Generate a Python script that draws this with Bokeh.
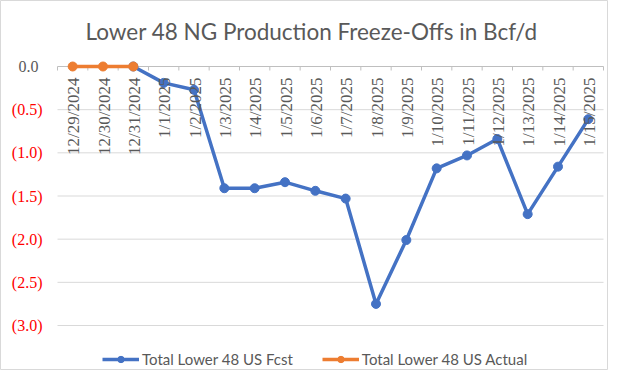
import math
from bokeh.plotting import figure
from bokeh.models import (ColumnDataSource, LabelSet, Label, Range1d,
                          Legend, LegendItem)
from bokeh.embed import file_html
from bokeh.resources import INLINE

# ---- data ----
categories = ["12/29/2024", "12/30/2024", "12/31/2024", "1/1/2025", "1/2/2025",
              "1/3/2025", "1/4/2025", "1/5/2025", "1/6/2025", "1/7/2025",
              "1/8/2025", "1/9/2025", "1/10/2025", "1/11/2025", "1/12/2025",
              "1/13/2025", "1/14/2025", "1/15/2025"]
nan = float("nan")
fcst = [nan, nan, 0.0, -0.19, -0.27, -1.41, -1.41, -1.34, -1.44, -1.53,
        -2.75, -2.01, -1.18, -1.03, -0.84, -1.71, -1.16, -0.61]
actual = [0.0, 0.0, 0.0, nan, nan, nan, nan, nan, nan, nan,
          nan, nan, nan, nan, nan, nan, nan, nan]
y_ticks = [0.0, -0.5, -1.0, -1.5, -2.0, -2.5, -3.0]
title_text = "Lower 48 NG Production Freeze-Offs in Bcf/d"

FONT = "Lato"
GRAY = "#595959"
BLUE = "#4472C4"
ORANGE = "#ED7D31"

# ---- layout (pixels) ----
W, H = 608, 370
PLOT_L, PLOT_R = 57, 603          # pixel extent of the category area
Y0_PX, YMIN_PX = 66, 325          # pixel rows of value 0 and of the lowest tick
n = len(categories)
ymin = min(y_ticks)
sx = (PLOT_R - PLOT_L) / n        # px per category
sy = (YMIN_PX - Y0_PX) / (0 - ymin)  # px per unit

x_start = -PLOT_L / sx
x_end = (W - PLOT_L) / sx
y_end = Y0_PX / sy
y_start = -(H - Y0_PX) / sy


def px_x(px):
    return x_start + px / sx


def px_y(py):
    return y_end - py / sy


xs = [i + 0.5 for i in range(n)]

p = figure(width=W, height=H, output_backend="svg", toolbar_location=None,
           x_range=Range1d(x_start, x_end), y_range=Range1d(y_start, y_end),
           min_border=0)
p.min_border_left = p.min_border_right = p.min_border_top = p.min_border_bottom = 0
p.outline_line_color = "#D9D9D9"
p.outline_line_width = 1
p.xaxis.visible = False
p.yaxis.visible = False
p.xgrid.visible = False
p.ygrid.visible = False

# gridlines for the negative ticks
neg = [t for t in y_ticks if t < 0]
p.segment(x0=[0] * len(neg), y0=neg, x1=[n] * len(neg), y1=neg,
          line_color="#D9D9D9", line_width=1)
# horizontal axis line at 0 with tick marks between categories
p.segment(x0=[0], y0=[0], x1=[n], y1=[0], line_color="#BFBFBF", line_width=1)
bounds = list(range(n + 1))
tick_len = 4 / sy
p.segment(x0=bounds, y0=[0] * len(bounds), x1=bounds, y1=[-tick_len] * len(bounds),
          line_color="#BFBFBF", line_width=1)

src = ColumnDataSource(dict(x=xs, fcst=fcst, actual=actual))
l1 = p.line("x", "fcst", source=src, line_color=BLUE, line_width=3.5)
s1 = p.scatter("x", "fcst", source=src, size=9, fill_color=BLUE, line_color=BLUE)
l2 = p.line("x", "actual", source=src, line_color=ORANGE, line_width=3.5)
s2 = p.scatter("x", "actual", source=src, size=9, fill_color=ORANGE, line_color=ORANGE)

# x category labels (rotated) hanging below the zero line
xl_src = ColumnDataSource(dict(x=xs, y=[0.0] * n, text=categories))
p.add_layout(LabelSet(x="x", y="y", text="text", source=xl_src, angle=math.pi / 2,
                      text_align="right", text_baseline="middle", y_offset=-11,
                      x_offset=1,
                      text_font=FONT, text_font_size="17px", text_color=GRAY))

# y tick labels: zero gray, negatives red in parentheses
yl_neg = ColumnDataSource(dict(x=[0] * len(neg), y=neg,
                               text=["(%.1f)" % abs(t) for t in neg]))
p.add_layout(LabelSet(x="x", y="y", text="text", source=yl_neg, x_offset=-15,
                      text_align="right", text_baseline="middle",
                      text_font=FONT, text_font_size="16px", text_color="#FF0000"))
yl_zero = ColumnDataSource(dict(x=[0], y=[0.0], text=["%.1f" % 0.0]))
p.add_layout(LabelSet(x="x", y="y", text="text", source=yl_zero, x_offset=-19,
                      text_align="right", text_baseline="middle",
                      text_font=FONT, text_font_size="16px", text_color=GRAY))

# title
p.add_layout(Label(x=px_x(311), y=px_y(31), text=title_text, text_align="center",
                   text_baseline="middle", text_font=FONT, text_font_size="22.5px",
                   text_color=GRAY))

legend = Legend(items=[LegendItem(label="Total Lower 48 US Fcst", renderers=[l1, s1]),
                       LegendItem(label="Total Lower 48 US Actual", renderers=[l2, s2])],
                orientation="horizontal", location=(102, 2),
                label_text_font=FONT, label_text_font_size="15px",
                label_text_color=GRAY, glyph_width=37, glyph_height=16,
                label_height=16, label_standoff=3,
                spacing=29, padding=4, border_line_color=None,
                background_fill_alpha=0)
p.add_layout(legend, "center")

open("out.html", "w").write(file_html(p, INLINE))
